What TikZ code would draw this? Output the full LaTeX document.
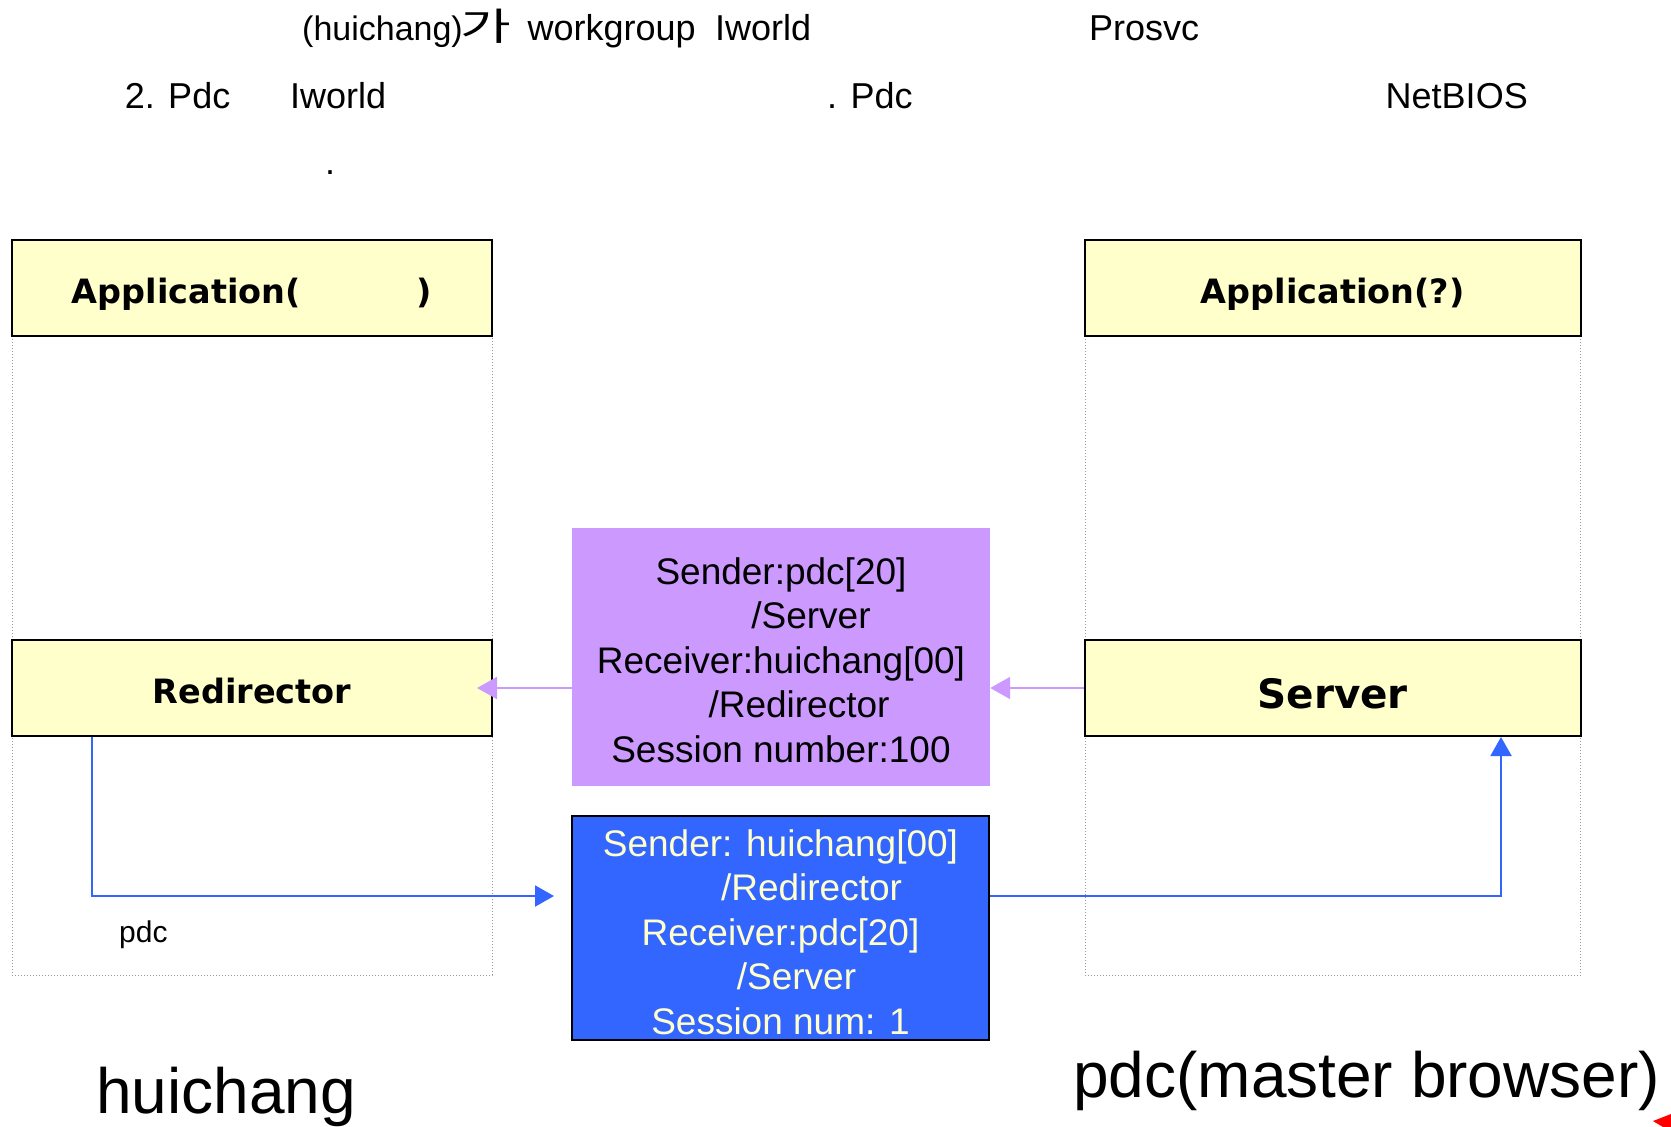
\documentclass[tikz,border=0pt]{standalone}
\usepackage{fontspec}
\usepackage{graphicx}
\setmainfont{Liberation Sans}
\newfontfamily\boldfont{DejaVu Sans}
\newfontfamily\krfont{Noto Sans CJK KR}
\usetikzlibrary{arrows.meta}
\definecolor{boxyellow}{HTML}{FFFFCC}
\definecolor{lav}{HTML}{CC99FF}
\definecolor{bblue}{HTML}{3366FF}
\definecolor{lanegray}{HTML}{9A9A9A}
\definecolor{txtyellow}{HTML}{FFFFCC}
\tikzset{
  layerbox/.style={draw=black, line width=2pt, fill=boxyellow, inner sep=0pt,
    minimum height=96pt, text height=31pt, text depth=0pt,
    font=\boldfont\bfseries\fontsize{33.5}{40}\selectfont},
  lanebox/.style={draw=lanegray, line width=1pt, dash pattern=on 1pt off 2pt},
  toptext/.style={anchor=base west, inner sep=0pt, font=\fontsize{36}{43}\selectfont},
  msgtext/.style={align=center, inner sep=0pt, font=\fontsize{37}{44.5}\selectfont},
  bigtext/.style={anchor=base west, inner sep=0pt, font=\fontsize{64}{76}\selectfont},
  parrow/.style={draw=lav, line width=2pt, -{Triangle[length=20pt,width=22pt]}},
  barrow/.style={draw=bblue, line width=2pt, -{Triangle[length=19pt,width=21pt]}},
}
\begin{document}
\begin{tikzpicture}[x=1pt,y=-1pt]
\useasboundingbox[fill=white] (0,0) rectangle (1671,1127);

% top text
\node[toptext, font=\fontsize{34}{40}\selectfont] (t1a) at (302,40.5) {(huichang)};
\node[toptext, font=\krfont\fontsize{38}{44}\selectfont] (t1b) at (460,40.5) {\scalebox{1.45}[1]{가}};
\node[toptext] (t1c) at (527.5,40.5) {workgroup};
\node[toptext] (t1d) at (715,40.5) {Iworld};
\node[toptext] (t2) at (1089,40.5) {Prosvc};
\node[toptext] (t3) at (124.7,108.7) {2. Pdc};
\node[toptext] (t4) at (290,108.7) {Iworld};
\node[toptext] (t5) at (827,108.7) {. Pdc};
\node[toptext] (t6) at (1385.5,108.7) {NetBIOS};
\node[toptext] (t7) at (325,174) {.};

% lanes
\draw[lanebox] (12,240) rectangle (492,975);
\draw[lanebox] (1085,240) rectangle (1580.5,975);

% layer boxes
\node[layerbox, minimum width=480pt] (appL) at (252,288) {Application(\hspace{116pt})};
\node[layerbox, minimum width=480pt] (red) at (252,688) {Redirector};
\node[layerbox, minimum width=495.5pt] (appR) at (1332.75,288) {Application(?)};
\node[layerbox, minimum width=495.5pt, text height=41pt, font=\boldfont\bfseries\fontsize{40.5}{48}\selectfont] (srv) at (1332.75,688) {Server};

% message boxes
\node[fill=lav, minimum width=418pt, minimum height=258pt, inner sep=0pt] (pm) at (781,656.5) {};
\node[msgtext] (pmt) at ([yshift=-3.5pt]pm.center)
  {Sender:pdc[20]\\\hspace*{60pt}/Server\\Receiver:huichang[00]\\\hspace*{36pt}/Redirector\\Session number:100};
\node[fill=bblue, draw=black, line width=1.5pt, minimum width=417pt, minimum height=224pt, inner sep=0pt] (bm) at (780.5,928) {};
\node[msgtext, text=txtyellow] (bmt) at ([yshift=-4pt]bm.center)
  {Sender: huichang[00]\\\hspace*{62pt}/Redirector\\Receiver:pdc[20]\\\hspace*{32pt}/Server\\Session num: 1};

% purple arrows
\draw[parrow] (srv.west) -- (srv.west -| pm.east);
\coordinate (redtip) at ([xshift=-16pt]red.east);
\draw[parrow] (pm.west |- red.east) -- (redtip);

% blue arrows
\coordinate (bstart) at (red.south -| 92,0);
\coordinate (bcorner1) at (92,896);
\coordinate (btip1) at (554,896);
\draw[barrow] (bstart) -- (bcorner1) -- (btip1);
\coordinate (bcorner2) at (1501,896);
\coordinate (btip2) at (srv.south -| 1501,0);
\draw[barrow] (bm.east |- bcorner2) -- (bcorner2) -- (btip2);

% labels
\node[anchor=base west, inner sep=0pt, font=\fontsize{30}{36}\selectfont] (pdclbl) at (119,942) {pdc};
\node[bigtext] (hc) at (96,1113.6) {huichang};
\node[bigtext] (pdcmb) at (1073,1097.7) {pdc(master browser)};

% red sliver at corner
\fill[red] (1653,1121) -- (1671,1114) -- (1671,1127) -- (1663,1127) -- cycle;
\end{tikzpicture}
\end{document}
